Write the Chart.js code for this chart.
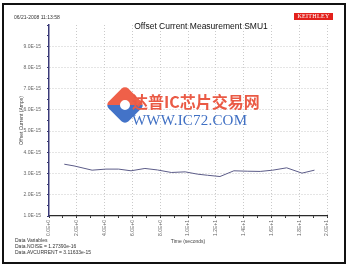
<!DOCTYPE html>
<html><head><meta charset="utf-8">
<script src="https://cdn.jsdelivr.net/npm/chart.js@4/dist/chart.umd.min.js"></script>
<style>
html,body{margin:0;padding:0;background:#fff;}
#wrap{position:relative;width:350px;height:271px;overflow:hidden;font-family:"Liberation Sans",Arial,sans-serif;}
#frame{position:absolute;left:2px;top:3px;width:340px;height:257px;border:2px solid #111;}
canvas{position:absolute;left:0;top:0;}
.t{position:absolute;white-space:nowrap;color:#333;}
#title{left:120px;top:21px;width:162px;text-align:center;font-size:8.5px;color:#111;}
#date{left:14px;top:14px;font-size:5px;}
#logo{left:294px;top:13px;width:39px;height:7px;background:#e3201b;color:#fff;font-family:"Liberation Serif",serif;font-size:6px;line-height:7px;text-align:center;letter-spacing:0.3px;}
#vars{left:15px;top:238px;font-size:5px;line-height:5.8px;}
#wm1{left:132px;top:89px;font-family:"Noto Sans CJK SC",sans-serif;font-weight:bold;font-size:16px;color:#ea5a45;}
#wm2{left:132px;top:112px;font-family:"Liberation Serif",serif;font-size:15px;color:#4070c4;letter-spacing:0.2px;}
#wmlogo{position:absolute;left:111px;top:91px;width:28px;height:28px;transform:rotate(45deg);background:linear-gradient(135deg,#ef6049 0%,#ef6049 50%,#4373c8 50%,#4373c8 100%);border-radius:5px;}
#wmlogo:after{content:"";position:absolute;left:9px;top:9px;width:10px;height:10px;background:#fff;border-radius:50%;}
</style></head>
<body><div id="wrap">
<canvas id="c" width="350" height="271"></canvas>
<div id="frame"></div>
<div class="t" id="date">06/21-2008 11:13:58</div>
<div class="t" id="title">Offset Current Measurement SMU1</div>
<div class="t" id="logo">KEITHLEY</div>
<div class="t" id="vars">Data Variables<br>Data.NOISE = 1.27390e-16<br>Data.AVCURRENT = 3.11633e-15</div>
<div id="wmlogo"></div>
<div class="t" id="wm1">达普IC芯片交易网</div>
<div class="t" id="wm2">WWW.IC72.COM</div>
</div>
<script>
// Time (seconds) of each measurement
const timeSeconds = [1.1, 1.8, 3.1, 4.1, 5.0, 5.9, 6.9, 7.8, 8.8, 9.8, 10.7, 11.4, 12.3, 13.3, 14.3, 15.2, 16.1, 17.1, 18.2, 19.1];
// Offset current (Amps)
const offsetCurrent = [3.44e-15, 3.36e-15, 3.16e-15, 3.21e-15, 3.21e-15, 3.13e-15, 3.24e-15, 3.17e-15, 3.05e-15, 3.08e-15,
                       2.97e-15, 2.92e-15, 2.86e-15, 3.13e-15, 3.11e-15, 3.10e-15, 3.16e-15, 3.27e-15, 3.02e-15, 3.16e-15];
// Labelled tick values
const yTickValues = [1e-15, 2e-15, 3e-15, 4e-15, 5e-15, 6e-15, 7e-15, 8e-15, 9e-15];
const xTickValues = [0, 2, 4, 6, 8, 10, 12, 14, 16, 18, 20];

const points = timeSeconds.map((t, i) => ({x: t, y: offsetCurrent[i]}));
const isMajorY = v => yTickValues.some(m => Math.abs(m - v) < 1e-18);
const isMajorX = v => xTickValues.some(m => Math.abs(m - v) < 1e-9);
const tickFont = {family: "Liberation Sans, Arial, sans-serif", size: 5};

new Chart(document.getElementById('c'), {
  type: 'line',
  data: {datasets: [{
    data: points,
    borderColor: '#5c5c88',
    borderWidth: 1,
    pointRadius: 0,
    tension: 0,
    fill: false
  }]},
  options: {
    responsive: false,
    animation: false,
    events: [],
    layout: {padding: {left: 0, right: 23, top: 25, bottom: 20}},
    plugins: {legend: {display: false}, tooltip: {enabled: false}, title: {display: false}},
    scales: {
      x: {
        type: 'linear', min: 0, max: 20,
        afterFit: s => { s.height = 35; },
        ticks: {
          stepSize: 1, autoSkip: false, minRotation: 90, maxRotation: 90,
          color: '#666', font: tickFont, padding: 2,
          callback: v => isMajorX(v) ? Number(v).toExponential(1).toUpperCase() : ''
        },
        grid: {
          color: c => (c.tick && isMajorX(c.tick.value) && c.tick.value !== 0) ? '#cacaca' : 'rgba(0,0,0,0)',
          tickColor: '#333', tickLength: 2, lineWidth: 1
        },
        border: {color: '#2a2a2a', width: 1.2, dash: [1, 2]},
        title: {display: true, text: 'Time (seconds)', color: '#444', font: tickFont, padding: {top: 0, bottom: 6}}
      },
      y: {
        type: 'linear', min: 1e-15, max: 1e-14,
        afterFit: s => { s.width = 49; },
        ticks: {
          stepSize: 5e-16, autoSkip: false, color: '#666', font: tickFont, padding: 6,
          callback: v => (isMajorY(v)) ? (v * 1e15).toFixed(1) + 'E-15' : ''
        },
        grid: {
          color: c => (c.tick && isMajorY(c.tick.value) && c.tick.value > 1.5e-15) ? '#cacaca' : 'rgba(0,0,0,0)',
          tickColor: '#3a3a70', tickLength: 2, lineWidth: 1
        },
        border: {color: '#3a3a78', width: 1.5, dash: [1, 2]},
        title: {display: true, text: 'Offset Current (Amps)', color: '#444', font: tickFont, padding: {top: 19, bottom: 0}}
      }
    }
  }
});
</script>
</body></html>
